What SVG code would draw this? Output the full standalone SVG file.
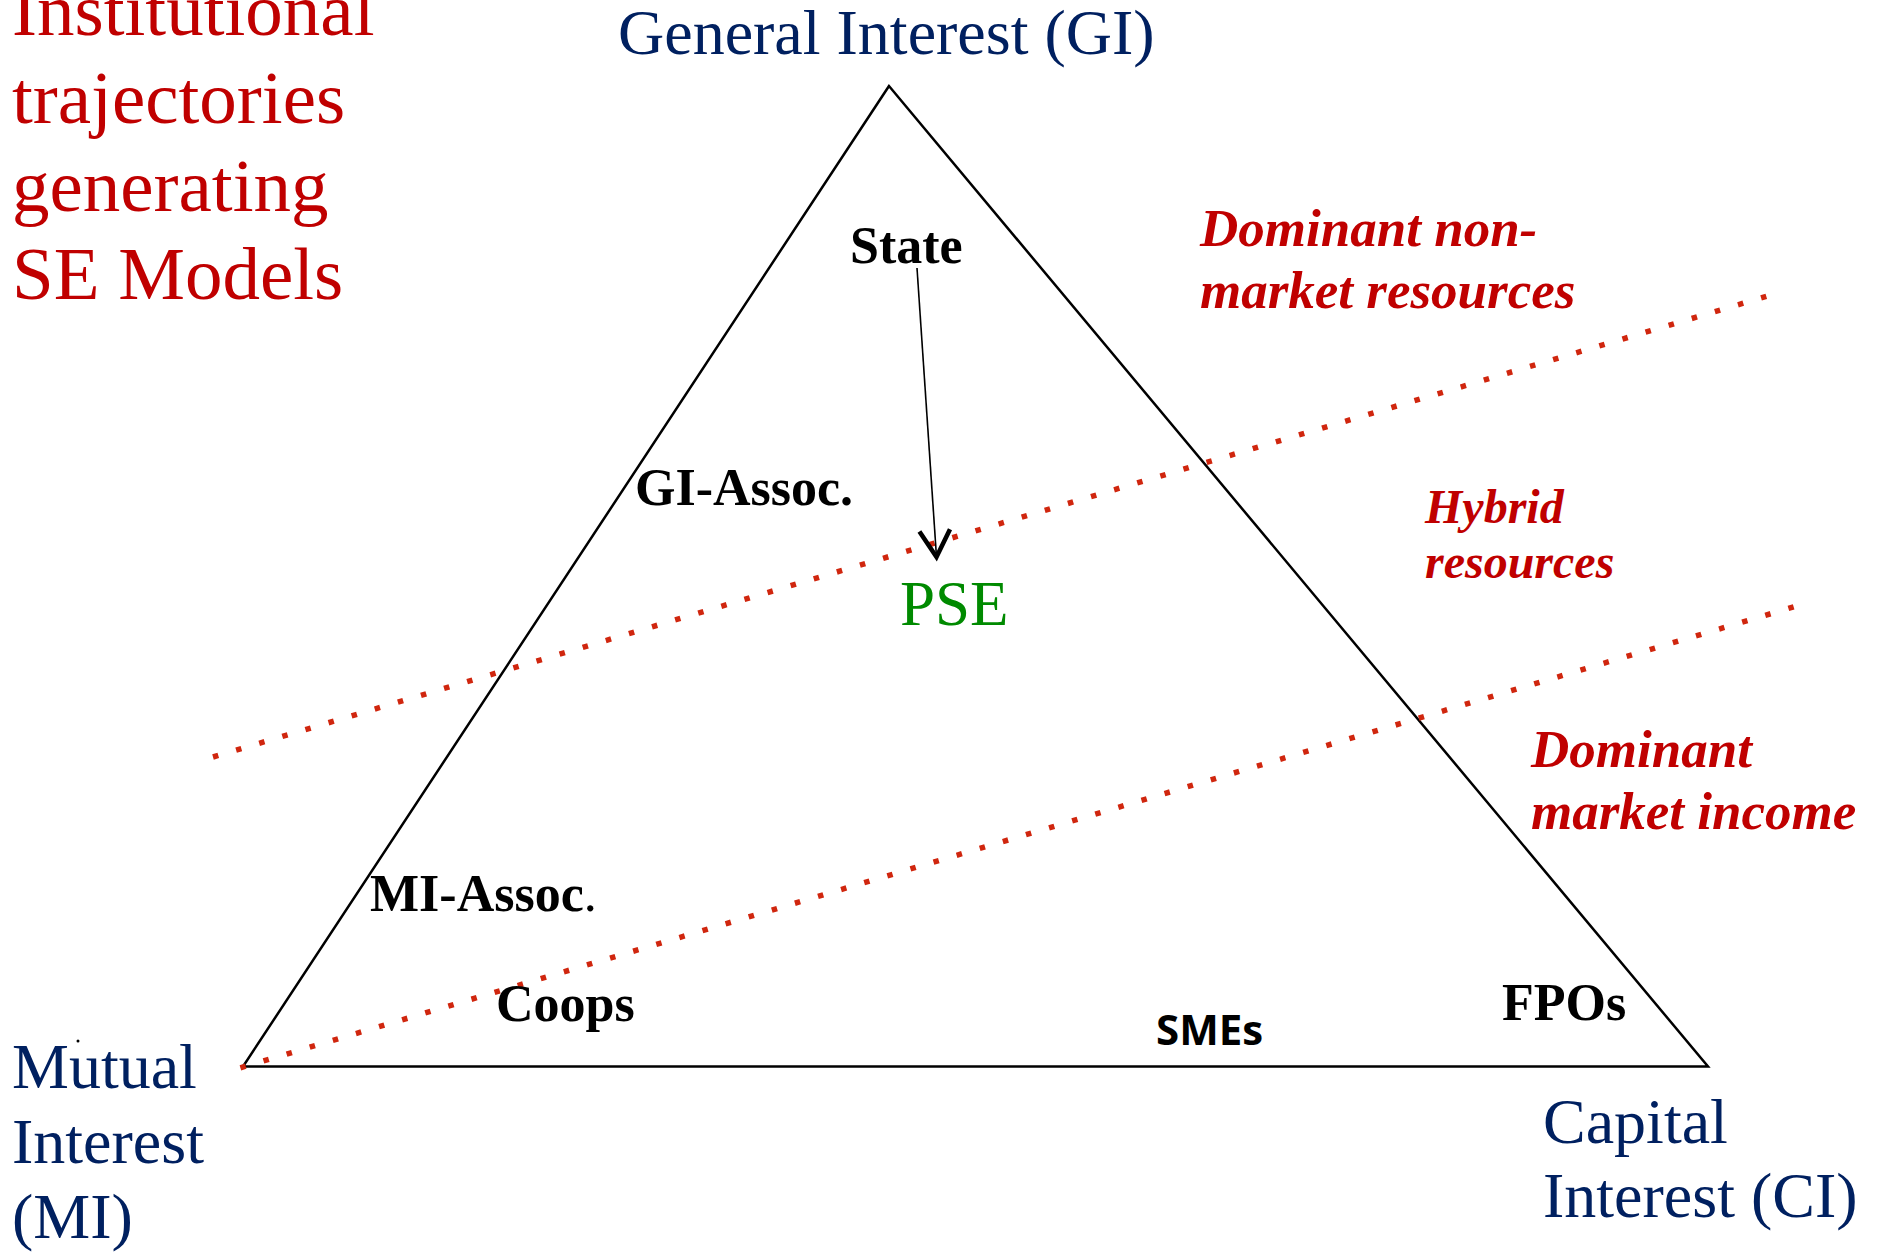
<svg xmlns="http://www.w3.org/2000/svg" width="1878" height="1253" viewBox="0 0 1878 1253">
  <defs>
    <style>
      .serif { font-family: "Liberation Serif", "Times New Roman", serif; }
      .title { fill: #C00000; font-size: 75px; }
      .pole { fill: #002060; font-size: 64px; }
      .actor { fill: #000000; font-size: 52px; font-weight: bold; }
      .zone { fill: #C00000; font-size: 53px; font-weight: bold; font-style: italic; }
      .edge { fill: none; stroke: #000000; stroke-width: 2.5; stroke-linejoin: miter; }
      .dots { fill: none; stroke: #D0260E; stroke-width: 5.5; stroke-dasharray: 5.5 18.6; stroke-linecap: butt; }
      .arrow { fill: none; stroke: #000000; stroke-width: 1.6; }
    </style>
    <marker id="openArrow" markerUnits="userSpaceOnUse" markerWidth="40" markerHeight="40" viewBox="-25 -15 30 30" refX="0" refY="0" orient="auto">
      <path d="M -20 -11.5 L 0 0 L -20 11.5" fill="none" stroke="#000000" stroke-width="3.4" stroke-linejoin="miter"/>
    </marker>
  </defs>

  <rect x="0" y="0" width="1878" height="1253" fill="#FFFFFF"/>

  <g id="title">
    <text class="serif title" x="12" y="35">Institutional</text>
    <text class="serif title" x="12" y="123">trajectories</text>
    <text class="serif title" x="12" y="211">generating</text>
    <text class="serif title" x="12" y="299">SE Models</text>
  </g>

  <g id="frame">
    <polygon class="edge" points="889,86 243,1066.5 1708,1066.5"/>
    <line class="dots" x1="213" y1="757" x2="1766.3" y2="296.4"/>
    <line class="dots" x1="240.4" y1="1067.8" x2="1795.3" y2="606.4"/>
  </g>

  <g id="pole-gi">
    <text class="serif pole" x="618" y="54">General Interest (GI)</text>
  </g>
  <g id="pole-mi">
    <text class="serif pole" x="12" y="1088">Mutual</text>
    <text class="serif pole" x="12" y="1163">Interest</text>
    <text class="serif pole" x="12" y="1238">(MI)</text>
    <circle cx="78" cy="1041" r="1.5" fill="#000000"/>
  </g>
  <g id="pole-ci">
    <text class="serif pole" x="1543" y="1143">Capital</text>
    <text class="serif pole" x="1543" y="1217">Interest (CI)</text>
  </g>

  <g id="zone-nonmarket">
    <text class="serif zone" x="1200" y="246">Dominant non-</text>
    <text class="serif zone" x="1200" y="308">market resources</text>
  </g>
  <g id="zone-hybrid">
    <text class="serif zone" x="1425" y="523" style="font-size:48px">Hybrid</text>
    <text class="serif zone" x="1425" y="578" style="font-size:48px">resources</text>
  </g>
  <g id="zone-market">
    <text class="serif zone" x="1531" y="767">Dominant</text>
    <text class="serif zone" x="1531" y="829">market income</text>
  </g>

  <g id="node-state">
    <text class="serif actor" x="850" y="263">State</text>
  </g>
  <g id="node-gi-assoc">
    <text class="serif actor" x="635" y="505">GI-Assoc.</text>
  </g>
  <g id="node-pse">
    <text class="serif" x="900" y="625" style="font-size:63px; fill:#008A00">PSE</text>
  </g>
  <g id="node-mi-assoc">
    <text class="serif actor" x="370" y="911">MI-Assoc<tspan style="font-weight:normal">.</tspan></text>
  </g>
  <g id="node-coops">
    <text class="serif actor" x="496" y="1021">Coops</text>
  </g>
  <g id="node-smes">
    <text x="1156" y="1045" style="font-family:'Open Sans','Liberation Sans',sans-serif; font-size:42px; font-weight:bold; fill:#000000">SMEs</text>
  </g>
  <g id="node-fpos">
    <text class="serif actor" x="1502" y="1020">FPOs</text>
  </g>

  <g id="connectors">
    <line class="arrow" x1="917" y1="268" x2="936.5" y2="557" marker-end="url(#openArrow)"/>
  </g>
</svg>
